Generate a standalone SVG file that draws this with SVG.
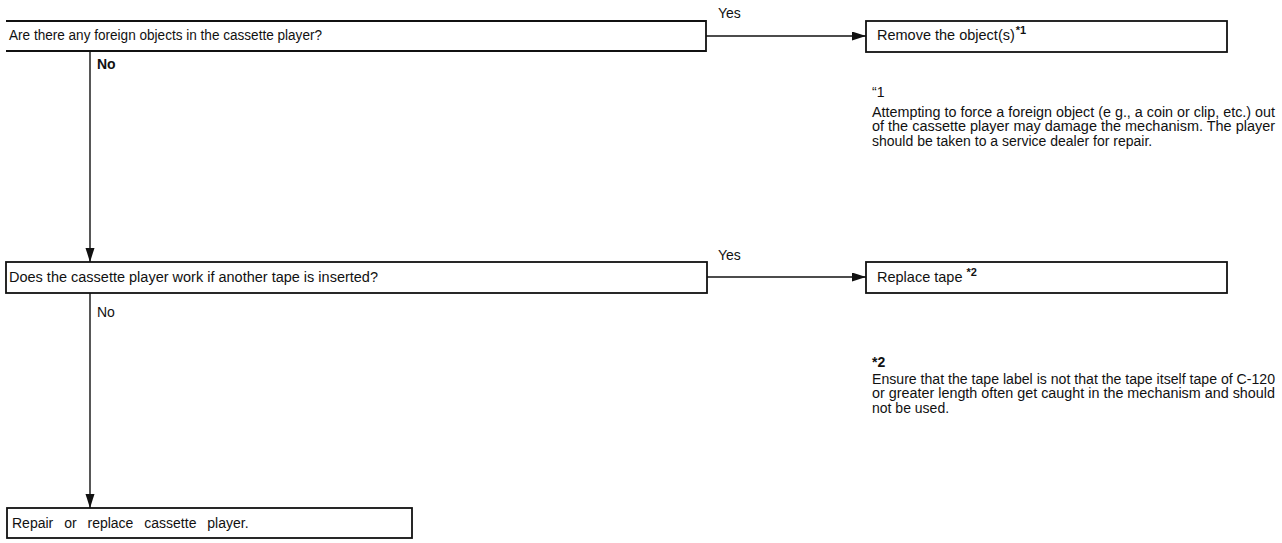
<svg xmlns="http://www.w3.org/2000/svg" width="1282" height="543" viewBox="0 0 1282 543">
<style>
text{font-family:"Liberation Sans",Arial,sans-serif;font-size:14px;fill:#111}
.box{fill:none;stroke:#111;stroke-width:1.8}
.con{fill:none;stroke:#111;stroke-width:1.4}
.bt{font-size:14.5px}
.sup{font-size:11px;font-weight:bold}
</style>
<defs>
<marker id="ah" markerWidth="14" markerHeight="10" refX="14" refY="4.5" orient="auto" markerUnits="userSpaceOnUse">
<path d="M0,0 L14,4.5 L0,9 Z" fill="#111"/>
</marker>
</defs>
<g id="q1">
<path class="box" d="M6,21 H706 V51 H6"/>
<text x="9" y="40" textLength="313" lengthAdjust="spacingAndGlyphs">Are there any foreign objects in the cassette player?</text>
</g>
<g id="remove">
<rect class="box" x="866" y="21" width="361" height="31"/>
<text class="bt" x="877" y="40">Remove the object(s)<tspan class="sup" dx="1" dy="-6">*1</tspan></text>
</g>
<g id="q2">
<rect class="box" x="6" y="262" width="701" height="31"/>
<text x="9" y="282" textLength="369" lengthAdjust="spacingAndGlyphs">Does the cassette player work if another tape is inserted?</text>
</g>
<g id="replace">
<rect class="box" x="866" y="262" width="361" height="31"/>
<text class="bt" x="877" y="282">Replace tape <tspan class="sup" dy="-6">*2</tspan></text>
</g>
<g id="repair">
<rect class="box" x="7" y="508" width="405" height="30"/>
<text x="12" y="528" font-size="14.5" word-spacing="7">Repair or replace cassette player.</text>
</g>
<g id="note1">
<text x="872" y="97">“1</text>
<text x="872" y="117" textLength="403" lengthAdjust="spacingAndGlyphs">Attempting to force a foreign object (e g., a coin or clip, etc.) out</text>
<text x="872" y="131" textLength="403" lengthAdjust="spacingAndGlyphs">of the cassette player may damage the mechanism. The player</text>
<text x="872" y="146">should be taken to a service dealer for repair.</text>
</g>
<g id="note2">
<text x="872" y="367" font-weight="bold">*2</text>
<text x="872" y="384" textLength="403" lengthAdjust="spacingAndGlyphs">Ensure that the tape label is not that the tape itself tape of C-120</text>
<text x="872" y="398" textLength="403" lengthAdjust="spacingAndGlyphs">or greater length often get caught in the mechanism and should</text>
<text x="872" y="413">not be used.</text>
</g>
<g id="connectors">
<line class="con" x1="706" y1="36" x2="866" y2="36" marker-end="url(#ah)"/>
<text x="718" y="18">Yes</text>
<line class="con" x1="90" y1="51" x2="90" y2="262" marker-end="url(#ah)"/>
<text x="97" y="69" font-weight="bold">No</text>
<line class="con" x1="707" y1="277" x2="866" y2="277" marker-end="url(#ah)"/>
<text x="718" y="260">Yes</text>
<line class="con" x1="90" y1="293" x2="90" y2="508" marker-end="url(#ah)"/>
<text x="97" y="317">No</text>
</g>
</svg>
